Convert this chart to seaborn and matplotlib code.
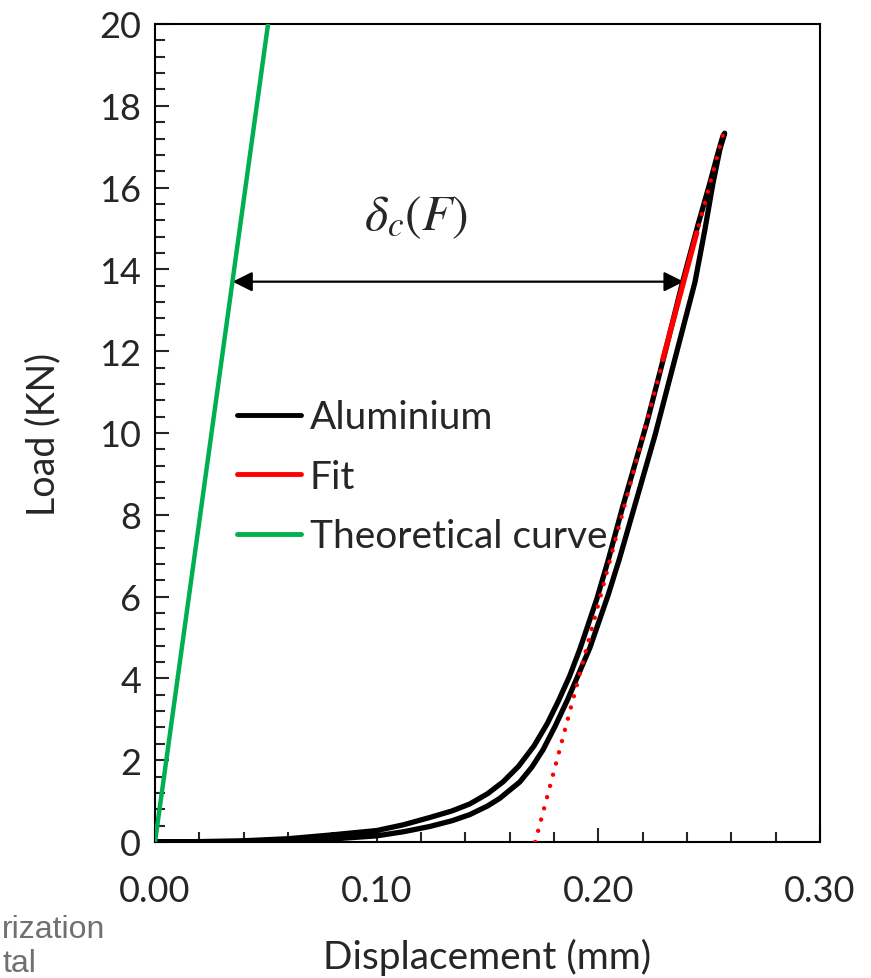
import numpy as np
import pandas as pd
import seaborn as sns
import matplotlib.pyplot as plt

# load-displacement loop of the aluminium sample
# right branch, going up
disp_up = [0.000, 0.020, 0.040, 0.060, 0.079, 0.100, 0.112, 0.124, 0.134, 0.142,
           0.150, 0.1556, 0.1646, 0.170, 0.175, 0.1805, 0.1863, 0.1962, 0.2045,
           0.2095, 0.2255, 0.2436, 0.2480, 0.2517, 0.2549, 0.2566]
load_up = [0.00, 0.00, 0.01, 0.03, 0.07, 0.15, 0.25, 0.38, 0.52, 0.67,
           0.88, 1.07, 1.47, 1.83, 2.25, 2.83, 3.50, 4.75, 6.05,
           6.92, 9.93, 13.69, 14.95, 16.10, 16.95, 17.25]
# left branch, coming down
disp_down = [0.2570, 0.2562, 0.254, 0.250, 0.245, 0.238, 0.230, 0.222, 0.211, 0.2045,
             0.1993, 0.1917, 0.187, 0.182, 0.177, 0.171, 0.164, 0.157, 0.150, 0.142,
             0.134, 0.124, 0.112, 0.100, 0.079, 0.060, 0.040, 0.020, 0.000]
load_down = [17.33, 17.26, 16.85, 16.05, 15.10, 13.69, 11.95, 10.27, 8.20, 6.90,
             5.94, 4.72, 4.05, 3.45, 2.90, 2.35, 1.85, 1.47, 1.18, 0.93,
             0.76, 0.60, 0.42, 0.28, 0.17, 0.08, 0.03, 0.01, 0.00]

# linear fit of the unloading slope
fit_disp = [0.1715, 0.2565]
fit_load = [0.0, 17.35]
fit_seg_disp = [0.2291, 0.2444]
fit_seg_load = [11.8, 14.9]

# theoretical stiffness
theo_disp = [0.0, 0.0510]
theo_load = [0.0, 20.0]

x_ticks = [0.00, 0.10, 0.20, 0.30]
y_ticks = [0, 2, 4, 6, 8, 10, 12, 14, 16, 18, 20]

alu = pd.DataFrame({'Displacement': disp_up + disp_down, 'Load': load_up + load_down})
fit = pd.DataFrame({'Displacement': fit_disp, 'Load': fit_load})
fit_seg = pd.DataFrame({'Displacement': fit_seg_disp, 'Load': fit_seg_load})
theo = pd.DataFrame({'Displacement': theo_disp, 'Load': theo_load})

sns.set_style('ticks')
plt.rcParams['font.family'] = ['Lato', 'DejaVu Sans']
plt.rcParams['mathtext.fontset'] = 'stix'

fig = plt.figure(figsize=(8.71, 9.79), dpi=100)
ax = fig.add_axes([155/871, 1 - 843/979, 665/871, 818/979])

green = '#00B050'
red = '#FF0000'

sns.lineplot(data=alu, x='Displacement', y='Load', ax=ax, color='black', lw=3.8,
             sort=False, estimator=None, label='Aluminium', zorder=1)
ax.lines[-1].set_solid_joinstyle('round')
# dotted fit line drawn on top of the black curve
sns.lineplot(data=fit, x='Displacement', y='Load', ax=ax, color=red, lw=3.2,
             sort=False, estimator=None, zorder=3)
ax.lines[-1].set_dashes([0.01, 2.6])
ax.lines[-1].set_dash_capstyle('round')
sns.lineplot(data=fit_seg, x='Displacement', y='Load', ax=ax, color=red, lw=3.8,
             sort=False, estimator=None, label='Fit', zorder=4)
sns.lineplot(data=theo, x='Displacement', y='Load', ax=ax, color=green, lw=3.2,
             sort=False, estimator=None, label='Theoretical curve', zorder=4)

ax.annotate('', xy=(0.2385, 13.7), xytext=(0.0350, 13.7),
            arrowprops=dict(arrowstyle='<|-|>', color='black', lw=1.6,
                            mutation_scale=30, shrinkA=0, shrinkB=0))
ax.text(0.1177, 15.3, r'$\delta_c(F)$', fontsize=36, ha='center', va='center')

ax.set_xlim(0, 0.30)
ax.set_ylim(0, 20)
ax.set_xticks(x_ticks)
ax.set_xticklabels([f'{v:.2f}' for v in x_ticks])
ax.set_yticks(y_ticks)
ax.set_xticks(np.arange(0, 0.301, 0.02), minor=True)
ax.set_yticks(np.arange(0, 20.01, 0.4), minor=True)
ax.tick_params(which='major', direction='in', length=10, width=1.5, labelsize=26,
               top=False, right=False)
ax.tick_params(axis='x', which='major', pad=23)
ax.tick_params(axis='y', which='major', pad=10)
ax.tick_params(which='minor', direction='in', length=7.5, width=1.5,
               top=False, right=False)
for s in ax.spines.values():
    s.set_linewidth(1.5)
    s.set_color('black')

ax.set_xlabel('Displacement (mm)', fontsize=28, labelpad=22)
ax.set_ylabel('Load (KN)', fontsize=27, labelpad=27)

leg = ax.legend(loc='upper left', bbox_to_anchor=(0.123, 0.541), frameon=False,
                fontsize=28, handlelength=1.65, handletextpad=0.22,
                labelspacing=0.6, borderpad=0, borderaxespad=0)
for h in leg.get_lines():
    h.set_linewidth(3.5)

# cropped caption text from the source slide
fig.text(2/871, 1 - 938/979, 'rization', color='#707070', fontsize=23,
         family='Liberation Sans', va='baseline')
fig.text(2/871, 1 - 972/979, 'tal', color='#707070', fontsize=23,
         family='Liberation Sans', va='baseline')

fig.savefig('out.png', dpi=100)
